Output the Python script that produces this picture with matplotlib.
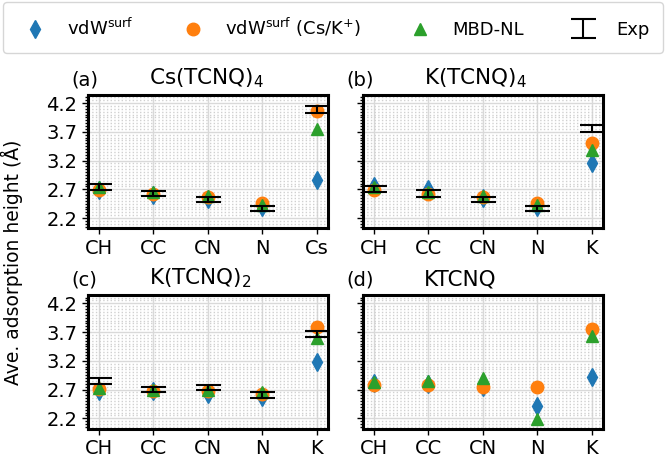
import numpy as np
import matplotlib
matplotlib.use('Agg')
import matplotlib.pyplot as plt
from matplotlib.ticker import MultipleLocator

# sites on the x axis
labels_cs = ['CH', 'CC', 'CN', 'N', 'Cs']
labels_k = ['CH', 'CC', 'CN', 'N', 'K']

# (a) Cs(TCNQ)4
a_vdw = [2.68, 2.60, 2.53, 2.39, 2.86]
a_ion = [2.69, 2.62, 2.56, 2.46, 4.07]
a_mbd = [2.745, 2.66, 2.58, 2.43, 3.75]
a_exp = [2.737, 2.63, 2.525, 2.375, 4.087]
a_err = [0.049, 0.049, 0.049, 0.043, 0.054]

# (b) K(TCNQ)4
b_vdw = [2.765, 2.70, 2.55, 2.40, 3.16]
b_ion = [2.68, 2.62, 2.56, 2.47, 3.50]
b_mbd = [2.735, 2.66, 2.58, 2.43, 3.38]
b_exp = [2.708, 2.63, 2.525, 2.37, 3.75]
b_err = [0.05, 0.057, 0.05, 0.046, 0.06]

# (c) K(TCNQ)2
c_vdw = [2.68, 2.67, 2.62, 2.57, 3.18]
c_ion = [2.71, 2.68, 2.68, 2.62, 3.79]
c_mbd = [2.72, 2.69, 2.69, 2.66, 3.59]
c_exp = [2.854, 2.706, 2.733, 2.607, 3.666]
c_err = [0.052, 0.043, 0.046, 0.05, 0.052]

# (d) KTCNQ, no experiment
d_vdw = [2.82, 2.80, 2.74, 2.42, 2.92]
d_ion = [2.78, 2.78, 2.75, 2.74, 3.76]
d_mbd = [2.84, 2.85, 2.91, 2.19, 3.64]

panels = [
    ('(a)', 'Cs(TCNQ)$_4$', labels_cs, a_vdw, a_ion, a_mbd, a_exp, a_err),
    ('(b)', 'K(TCNQ)$_4$', labels_k, b_vdw, b_ion, b_mbd, b_exp, b_err),
    ('(c)', 'K(TCNQ)$_2$', labels_k, c_vdw, c_ion, c_mbd, c_exp, c_err),
    ('(d)', 'KTCNQ', labels_k, d_vdw, d_ion, d_mbd, None, None),
]

plt.rcParams['font.size'] = 14

fig, axs = plt.subplots(2, 2, figsize=(6.66, 4.61), dpi=100, sharey=True)
fig.subplots_adjust(left=0.132, right=0.905, bottom=0.07, top=0.794, wspace=0.146, hspace=0.5)

ms = 9
for ax, (tag, name, labs, vdw, ion, mbd, ex, er) in zip(axs.flat, panels):
    x = np.arange(len(labs))
    h1, = ax.plot(x, vdw, 'd', color='C0', ms=ms, ls='none', zorder=3)
    h2, = ax.plot(x, ion, 'o', color='C1', ms=ms, ls='none', zorder=3)
    h3, = ax.plot(x, mbd, '^', color='C2', ms=ms, ls='none', zorder=3)
    if ex is not None:
        h4 = ax.errorbar(x, ex, yerr=er, fmt='none', ecolor='k', elinewidth=1.5,
                         capsize=9, capthick=1.5, zorder=4)
    ax.set_xticks(x)
    ax.set_xticklabels(labs)
    ax.set_xlim(-0.2, 4.2)
    ax.set_ylim(2.02, 4.34)
    ax.set_yticks([2.2, 2.7, 3.2, 3.7, 4.2])
    ax.yaxis.set_minor_locator(MultipleLocator(0.05))
    ax.grid(True, which='major', color='#d9d9d9', lw=1)
    ax.grid(True, which='minor', axis='y', color='#d0d0d0', ls=':', lw=1)
    ax.set_axisbelow(True)
    ax.tick_params(axis='y', which='minor', length=2.5, width=1)
    ax.tick_params(axis='both', which='major', length=4, width=1, labelsize=14)
    ax.tick_params(axis='x', which='major', pad=3.5)
    for s in ax.spines.values():
        s.set_linewidth(2.2)
    ax.text(-0.07, 1.04, tag, transform=ax.transAxes, ha='left', va='bottom', fontsize=14)
    ax.text(0.255, 1.04, name, transform=ax.transAxes, ha='left', va='bottom', fontsize=15.5)

fig.text(0.018, 1 - 262 / 461, 'Ave. adsorption height (Å)', rotation=90,
         ha='center', va='center', fontsize=13.5)

fig.legend([h1, h2, h3, h4],
           ['vdW$^{\\rm surf}$', 'vdW$^{\\rm surf}$ (Cs/K$^{+}$)', 'MBD-NL', 'Exp'],
           loc='upper left', bbox_to_anchor=(0.005, 0.995, 0.99, 0), ncol=4,
           mode='expand', fontsize=13, frameon=True, edgecolor='#cccccc',
           borderpad=0.75, borderaxespad=0)

plt.savefig('out.png')
